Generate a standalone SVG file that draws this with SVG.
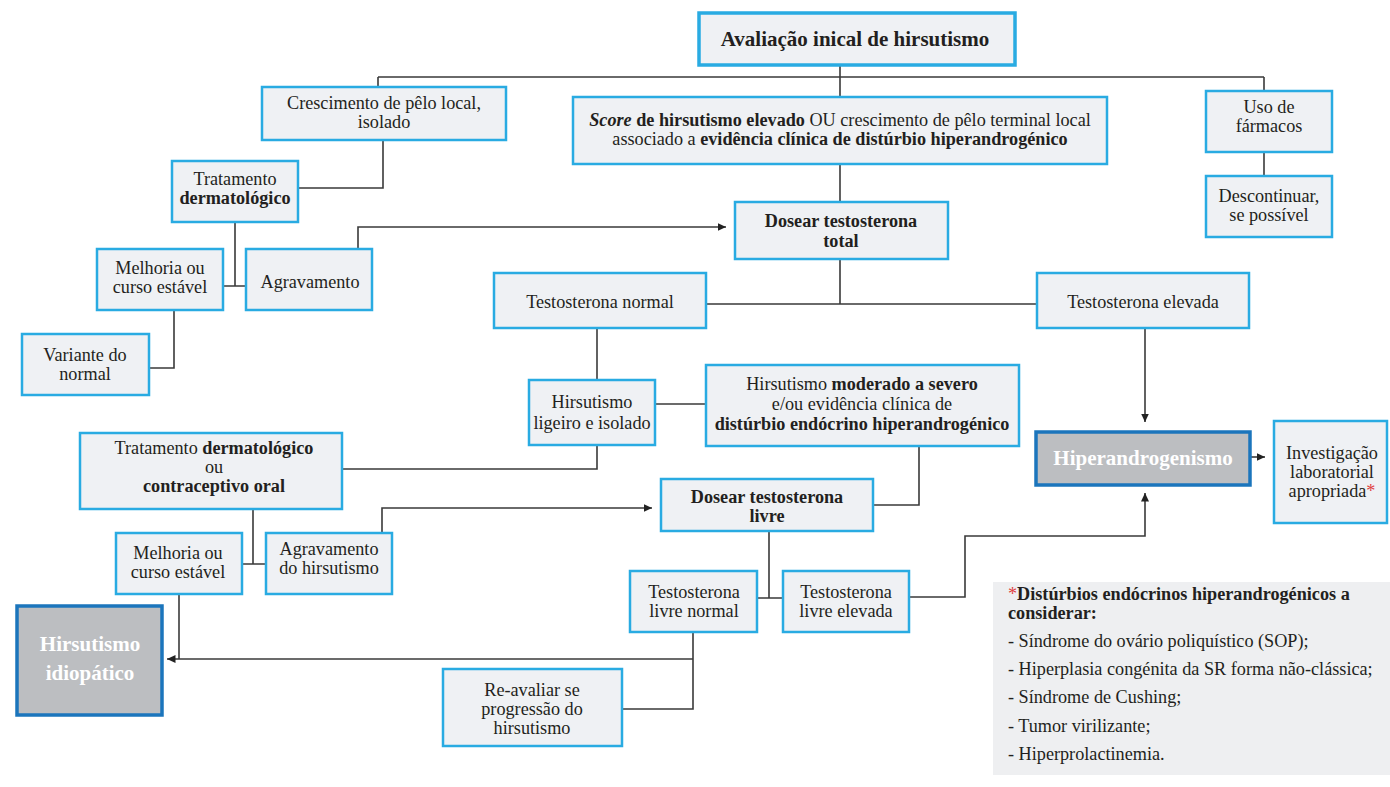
<svg xmlns="http://www.w3.org/2000/svg" width="1390" height="787" viewBox="0 0 1390 787">
  <style>
    .box { fill: #eff1f4; stroke: #29abe2; stroke-width: 2.5; }
    .key { fill: #bcbec1; stroke: #1b75bc; stroke-width: 3.5; }
    .t { font-family: "Liberation Serif", "Times New Roman", serif; font-size: 18.2px; fill: #231f20; text-anchor: middle; }
    .b { font-weight: bold; }
    .kt { fill: #ffffff; font-weight: bold; font-size: 21px; }
    .c { fill: none; stroke: #3a3a3a; stroke-width: 1.6; }
    .red { fill: #e0403f; }
    .lg { font-family: "Liberation Serif", "Times New Roman", serif; font-size: 18.2px; fill: #231f20; }
  </style>
  <defs>
    <marker id="arrow" markerUnits="userSpaceOnUse" markerWidth="9" markerHeight="8" refX="8.5" refY="4" orient="auto">
      <path d="M0,0 L8.5,4 L0,8 z" fill="#222"/>
    </marker>
  </defs>
  <rect width="1390" height="787" fill="#ffffff"/>

  <!-- connectors -->
  <g id="connectors">
    <path class="c" d="M840,65 V97 M378,77 H1264 M378,77 V87 M1264,77 V91"/>
    <path class="c" d="M383,140 V188 H298"/>
    <path class="c" d="M1264,152 V176"/>
    <path class="c" d="M840,164 V202"/>
    <path class="c" d="M235,222 V286 M223,286 H246"/>
    <path class="c" d="M174,310 V368 H149"/>
    <path class="c" d="M358,249 V227 H726" marker-end="url(#arrow)"/>
    <path class="c" d="M840,259 V304 M706,304 H1037"/>
    <path class="c" d="M597,328 V380"/>
    <path class="c" d="M655,404 H706"/>
    <path class="c" d="M597,445 V469 H342"/>
    <path class="c" d="M1145,328 V422" marker-end="url(#arrow)"/>
    <path class="c" d="M1250,457 H1265" marker-end="url(#arrow)"/>
    <path class="c" d="M919,446 V505 H873"/>
    <path class="c" d="M253,509 V564 M242,564 H266"/>
    <path class="c" d="M382,533 V508 H652" marker-end="url(#arrow)"/>
    <path class="c" d="M769,531 V598 M757,598 H783"/>
    <path class="c" d="M179,594 V659"/>
    <path class="c" d="M693,659 H167" marker-end="url(#arrow)"/>
    <path class="c" d="M693,632 V709 H622"/>
    <path class="c" d="M909,597 H965 V536 H1145 V493" marker-end="url(#arrow)"/>
  </g>

  <g id="n-avaliacao">
    <rect class="box" x="699" y="13" width="316" height="52" style="stroke-width:3.5"/>
    <text class="t b" x="855" y="46" style="font-size:21px">Avaliação inical de hirsutismo</text>
  </g>

  <g id="n-crescimento-local">
    <rect class="box" x="262" y="87" width="244" height="53"/>
    <text class="t" x="384" y="109">Crescimento de pêlo local,</text>
    <text class="t" x="384" y="128">isolado</text>
  </g>

  <g id="n-score">
    <rect class="box" x="573" y="97" width="534" height="67"/>
    <text class="t" x="840" y="126"><tspan class="b" font-style="italic">Score</tspan><tspan class="b"> de hirsutismo elevado</tspan> OU crescimento de pêlo terminal local</text>
    <text class="t" x="840" y="145">associado a <tspan class="b">evidência clínica de distúrbio hiperandrogénico</tspan></text>
  </g>

  <g id="n-farmacos">
    <rect class="box" x="1206" y="91" width="126" height="61"/>
    <text class="t" x="1269" y="113">Uso de</text>
    <text class="t" x="1269" y="132">fármacos</text>
  </g>

  <g id="n-descontinuar">
    <rect class="box" x="1206" y="176" width="126" height="61"/>
    <text class="t" x="1269" y="202">Descontinuar,</text>
    <text class="t" x="1269" y="221">se possível</text>
  </g>

  <g id="n-tratamento-derm">
    <rect class="box" x="172" y="161" width="126" height="61"/>
    <text class="t" x="235" y="185">Tratamento</text>
    <text class="t b" x="235" y="204">dermatológico</text>
  </g>

  <g id="n-dosear-total">
    <rect class="box" x="735" y="202" width="213" height="57"/>
    <text class="t b" x="841" y="227">Dosear testosterona</text>
    <text class="t b" x="841" y="247">total</text>
  </g>

  <g id="n-melhoria-1">
    <rect class="box" x="97" y="249" width="126" height="61"/>
    <text class="t" x="160" y="274">Melhoria ou</text>
    <text class="t" x="160" y="293">curso estável</text>
  </g>

  <g id="n-agravamento-1">
    <rect class="box" x="246" y="249" width="126" height="61"/>
    <text class="t" x="310" y="288">Agravamento</text>
  </g>

  <g id="n-testo-normal">
    <rect class="box" x="494" y="273" width="212" height="55"/>
    <text class="t" x="600" y="308">Testosterona normal</text>
  </g>

  <g id="n-testo-elevada">
    <rect class="box" x="1037" y="273" width="212" height="55"/>
    <text class="t" x="1143" y="308">Testosterona elevada</text>
  </g>

  <g id="n-variante">
    <rect class="box" x="22" y="334" width="127" height="61"/>
    <text class="t" x="85" y="361">Variante do</text>
    <text class="t" x="85" y="380">normal</text>
  </g>

  <g id="n-ligeiro">
    <rect class="box" x="529" y="380" width="126" height="65"/>
    <text class="t" x="592" y="408">Hirsutismo</text>
    <text class="t" x="592" y="429">ligeiro e isolado</text>
  </g>

  <g id="n-moderado">
    <rect class="box" x="706" y="365" width="313" height="81"/>
    <text class="t" x="862" y="390">Hirsutismo <tspan class="b">moderado a severo</tspan></text>
    <text class="t" x="862" y="410">e/ou evidência clínica de</text>
    <text class="t b" x="862" y="430">distúrbio endócrino hiperandrogénico</text>
  </g>

  <g id="n-hiperandrogenismo">
    <rect class="key" x="1036" y="432" width="214" height="53"/>
    <text class="t kt" x="1143" y="465">Hiperandrogenismo</text>
  </g>

  <g id="n-investigacao">
    <rect class="box" x="1274" y="421" width="113" height="102"/>
    <text class="t" x="1332" y="459">Investigação</text>
    <text class="t" x="1332" y="478">laboratorial</text>
    <text class="t" x="1332" y="497">apropriada<tspan class="red">*</tspan></text>
  </g>

  <g id="n-tratamento-oral">
    <rect class="box" x="80" y="433" width="262" height="76"/>
    <text class="t" x="214" y="454">Tratamento <tspan class="b">dermatológico</tspan></text>
    <text class="t" x="214" y="473">ou</text>
    <text class="t b" x="214" y="492">contraceptivo oral</text>
  </g>

  <g id="n-dosear-livre">
    <rect class="box" x="661" y="479" width="212" height="52"/>
    <text class="t b" x="767" y="503">Dosear testosterona</text>
    <text class="t b" x="767" y="522">livre</text>
  </g>

  <g id="n-melhoria-2">
    <rect class="box" x="116" y="533" width="126" height="61"/>
    <text class="t" x="178" y="559">Melhoria ou</text>
    <text class="t" x="178" y="578">curso estável</text>
  </g>

  <g id="n-agravamento-2">
    <rect class="box" x="266" y="533" width="126" height="61"/>
    <text class="t" x="329" y="555">Agravamento</text>
    <text class="t" x="329" y="574">do hirsutismo</text>
  </g>

  <g id="n-livre-normal">
    <rect class="box" x="630" y="571" width="127" height="61"/>
    <text class="t" x="694" y="598">Testosterona</text>
    <text class="t" x="694" y="617">livre normal</text>
  </g>

  <g id="n-livre-elevada">
    <rect class="box" x="783" y="571" width="126" height="61"/>
    <text class="t" x="846" y="598">Testosterona</text>
    <text class="t" x="846" y="617">livre elevada</text>
  </g>

  <g id="n-idiopatico">
    <rect class="key" x="17" y="606" width="145" height="109"/>
    <text class="t kt" x="90" y="651">Hirsutismo</text>
    <text class="t kt" x="90" y="680">idiopático</text>
  </g>

  <g id="n-reavaliar">
    <rect class="box" x="443" y="669" width="179" height="77"/>
    <text class="t" x="532" y="696">Re-avaliar se</text>
    <text class="t" x="532" y="715">progressão do</text>
    <text class="t" x="532" y="734">hirsutismo</text>
  </g>

  <g id="legend">
    <rect x="993" y="582" width="397" height="193" fill="#eeeff1"/>
    <text class="lg b" x="1008" y="600"><tspan class="red" font-weight="normal">*</tspan>Distúrbios endócrinos hiperandrogénicos a</text>
    <text class="lg b" x="1008" y="619">considerar:</text>
    <text class="lg" x="1008" y="647">- Síndrome do ovário poliquístico (SOP);</text>
    <text class="lg" x="1008" y="675">- Hiperplasia congénita da SR forma não-clássica;</text>
    <text class="lg" x="1008" y="703">- Síndrome de Cushing;</text>
    <text class="lg" x="1008" y="732">- Tumor virilizante;</text>
    <text class="lg" x="1008" y="760">- Hiperprolactinemia.</text>
  </g>
</svg>
